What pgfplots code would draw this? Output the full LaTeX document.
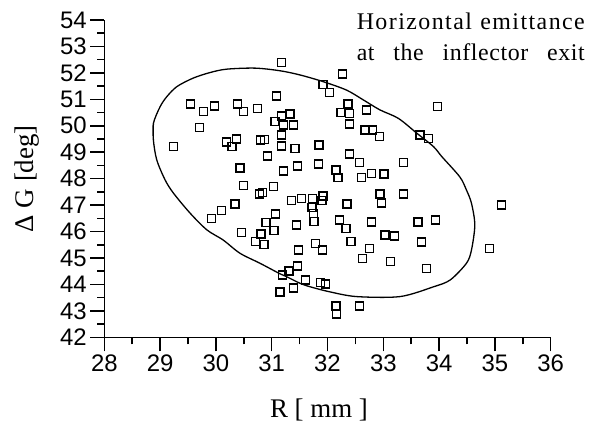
\documentclass[border=0pt]{standalone}
\usepackage{pgfplots}
\pgfplotsset{compat=1.18}
\usepackage{fontspec}
\setmainfont{Liberation Serif}
\newfontfamily\arialfont{Liberation Sans}
\newfontfamily\notefont{Liberation Serif}[LetterSpace=2.5]
\newfontfamily\notefontwide{Liberation Serif}[LetterSpace=6]

% beam particles at the inflector exit: R [mm], Delta G [deg]
\pgfplotstableread{
R     G
31.18 52.39
29.54 50.82
29.78 50.54
29.97 50.75
30.39 50.82
30.50 50.54
30.75 50.65
31.09 51.13
29.71 49.93
29.24 49.22
30.19 49.39
30.37 49.50
30.29 49.22
30.80 49.46
30.87 49.48
30.92 48.86
30.43 48.40
30.49 47.74
31.18 50.37
31.33 50.45
31.06 50.16
31.21 50.03
31.39 50.03
31.18 49.65
31.18 49.24
31.42 49.14
32.27 51.96
31.92 51.57
32.04 51.27
32.37 50.82
32.24 50.51
32.40 50.47
32.40 50.07
32.70 50.60
32.67 49.84
32.81 49.84
32.93 49.59
31.85 49.27
31.46 48.48
31.84 48.55
31.21 48.29
32.15 48.33
32.19 48.05
32.40 48.93
32.57 48.60
32.61 48.05
32.79 48.20
33.01 48.18
33.36 48.60
33.97 50.72
33.66 49.65
33.81 49.53
32.94 47.42
33.36 47.42
32.97 47.08
32.35 47.04
31.36 47.17
31.54 47.26
31.73 47.26
31.92 47.34
31.90 47.17
31.72 46.92
31.75 46.69
31.76 46.38
31.44 46.25
32.22 46.44
32.33 46.12
32.79 46.36
33.62 46.36
33.94 46.44
35.12 47.00
32.42 45.62
33.03 45.87
33.20 45.83
33.69 45.60
31.78 45.55
31.91 45.30
32.75 45.37
32.63 44.99
31.48 45.30
33.13 44.86
33.78 44.61
34.90 45.37
31.46 44.70
31.61 44.17
31.96 44.02
31.88 44.07
31.39 43.86
32.15 43.18
32.16 42.88
32.57 43.18
30.78 47.42
30.84 47.47
31.03 47.70
30.34 47.04
30.10 46.79
29.92 46.50
31.07 46.66
30.90 46.34
31.04 46.04
30.81 45.91
30.46 45.96
30.71 45.62
30.86 45.52
31.19 44.36
31.31 44.51
31.15 43.71
}\particles

% boundary of the horizontal emittance ellipse
\pgfplotstableread{
R     G
28.88 49.46
28.88 50.09
29.00 50.72
29.12 51.10
29.30 51.48
29.59 51.80
29.89 52.01
30.19 52.14
30.70 52.18
31.15 52.08
31.51 51.92
31.92 51.67
32.34 51.35
32.64 50.98
32.94 50.60
33.27 50.28
33.60 49.72
33.90 49.21
34.05 48.83
34.37 48.07
34.49 47.57
34.58 47.07
34.64 46.25
34.58 45.30
34.49 44.80
34.20 44.17
33.90 43.91
33.30 43.54
32.52 43.54
32.04 43.72
31.69 43.91
31.51 44.04
31.27 44.29
31.15 44.40
30.79 44.80
30.43 45.18
30.13 45.68
29.84 46.06
29.54 46.69
29.24 47.45
29.09 47.95
28.94 48.71
28.88 49.46
28.88 50.09
}\ellipse

\begin{document}
\begin{tikzpicture}
\path[use as bounding box] (-104.3bp,-87.7bp) rectangle (486.7bp,337.3bp);
\begin{axis}[
  at={(0,0)}, anchor=south west,
  scale only axis, width=446.4bp, height=317.3bp,
  xmin=28, xmax=36, ymin=42, ymax=54,
  axis x line=bottom, axis y line=left,
  axis line style={-, line width=1.5bp},
  xtick={28,29,...,36}, ytick={42,43,...,54},
  minor x tick num=1, minor y tick num=1,
  tick align=outside,
  major tick length=14bp, minor tick length=7bp,
  every tick/.style={black, line width=1.5bp},
  tick label style={font=\arialfont\fontsize{24}{24}\selectfont},
  /pgf/number format/assume math mode=true,
  xlabel={R [ mm ]}, ylabel={Δ G [deg]},
  every axis x label/.style={at={(axis description cs:0.481,-0.2543)}, anchor=base,
    font=\fontsize{27}{30}\selectfont},
  every axis y label/.style={at={(axis description cs:-0.1586,0.5)}, rotate=90, anchor=base,
    font=\fontsize{27}{30}\selectfont},
  clip=false,
]
\addplot[black, line width=1.3bp, smooth, tension=0.5] table[x=R, y=G] {\ellipse};
\addplot[only marks, mark=square, mark size=4bp, mark options={black, line width=1.3bp, fill=white}] table[x=R, y=G] {\particles};
\end{axis}
\node[anchor=north east, align=right, inner sep=0pt, font=\fontsize{24}{32}\selectfont]
  at (480.7bp, 325bp) {\makebox[228bp][s]{\notefontwide Horizontal emittance}\\\makebox[228bp][s]{\notefont at the inflector exit}};
\end{tikzpicture}
\end{document}
